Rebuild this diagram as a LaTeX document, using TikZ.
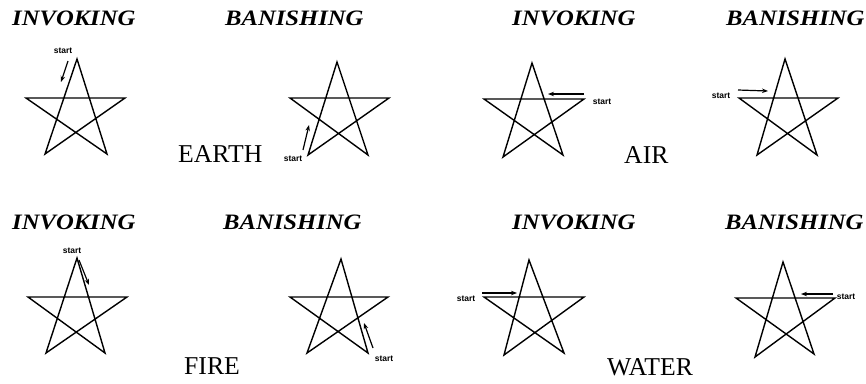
\documentclass[tikz,border=0pt]{standalone}
\usepackage{fontspec}
\usepackage{graphicx}
\setmainfont{Liberation Serif}
\setsansfont{Liberation Sans}
\usetikzlibrary{arrows.meta}
\newcommand{\hdtext}[1]{\scalebox{1.12}[1]{\fontsize{22}{22}\selectfont\bfseries\itshape #1}}
\newcommand{\pentagram}[6]{%
  \coordinate (#1t) at #2; \coordinate (#1l) at #3; \coordinate (#1r) at #4;
  \coordinate (#1a) at #5; \coordinate (#1b) at #6;
  \draw[starline] (#1t) -- (#1a) -- (#1r) -- (#1l) -- (#1b) -- cycle;}
\begin{document}
\begin{tikzpicture}[x=1pt,y=-1pt,
  starline/.style={line width=1.4pt,line join=miter},
  startarrow/.style={line width=1.2pt,-{Stealth[length=6pt,width=4.5pt]}},
  heading/.style={anchor=base west,inner sep=0pt},
  element/.style={anchor=base west,inner sep=0pt,font=\fontsize{25.7}{26}\selectfont},
  startlbl/.style={inner sep=0pt,font=\sffamily\bfseries\fontsize{8.5}{9}\selectfont}]
\useasboundingbox (0,0) rectangle (866,383);
% headings
\node[heading] (h1) at (12,25) {\hdtext{INVOKING}};
\node[heading] (h2) at (225,25) {\hdtext{BANISHING}};
\node[heading] (h3) at (512,25) {\hdtext{INVOKING}};
\node[heading] (h4) at (726,25) {\hdtext{BANISHING}};
\node[heading] (h5) at (12,229) {\hdtext{INVOKING}};
\node[heading] (h6) at (223,229) {\hdtext{BANISHING}};
\node[heading] (h7) at (512,229) {\hdtext{INVOKING}};
\node[heading] (h8) at (725,229) {\hdtext{BANISHING}};
% element names
\node[element] (earth) at (178,162) {EARTH};
\node[element] (air) at (624,163) {AIR};
\node[element] (fire) at (184,374) {FIRE};
\node[element] (water) at (607,375) {WATER};
% stars
\pentagram{s1}{(77,59)}{(26,98)}{(125,98)}{(45,154)}{(107,154)}
\pentagram{s2}{(337,62)}{(290,98)}{(389,98)}{(308,155)}{(368,155)}
\pentagram{s3}{(532,63)}{(484,99)}{(584,99)}{(503,157)}{(563,155)}
\pentagram{s4}{(785,59)}{(739,98)}{(838,98)}{(757,155)}{(817,155)}
\pentagram{s5}{(77,258)}{(28,297)}{(127,297)}{(46,353)}{(105,353)}
\pentagram{s6}{(341,259)}{(290,297)}{(388,297)}{(307,353)}{(368,353)}
\pentagram{s7}{(529,260)}{(484,297)}{(584,297)}{(504,355)}{(564,353)}
\pentagram{s8}{(783,262)}{(736,298)}{(835,298)}{(755,357)}{(814,354)}
% start labels
\node[startlbl] (st1) at (63,51) {start};
\node[startlbl] (st2) at (293,159) {start};
\node[startlbl] (st3) at (602,102) {start};
\node[startlbl] (st4) at (721,96) {start};
\node[startlbl] (st5) at (72,251) {start};
\node[startlbl] (st6) at (384,359) {start};
\node[startlbl] (st7) at (466,299) {start};
\node[startlbl] (st8) at (846,297) {start};
% arrows
\coordinate (a1s) at (68,61);   \coordinate (a1e) at (61,82);
\coordinate (a2s) at (303,150); \coordinate (a2e) at (309,125);
\coordinate (a3s) at (584,94);  \coordinate (a3e) at (548,94);
\coordinate (a4s) at (738,90);  \coordinate (a4e) at (768,91);
\coordinate (a5s) at (79,260);  \coordinate (a5e) at (89,285);
\coordinate (a6s) at (373,348); \coordinate (a6e) at (364,323);
\coordinate (a7s) at (482,293); \coordinate (a7e) at (517,293);
\coordinate (a8s) at (833,294); \coordinate (a8e) at (801,294);
\foreach \i in {1,...,8} {\draw[startarrow] (a\i s) -- (a\i e);}
\end{tikzpicture}
\end{document}
